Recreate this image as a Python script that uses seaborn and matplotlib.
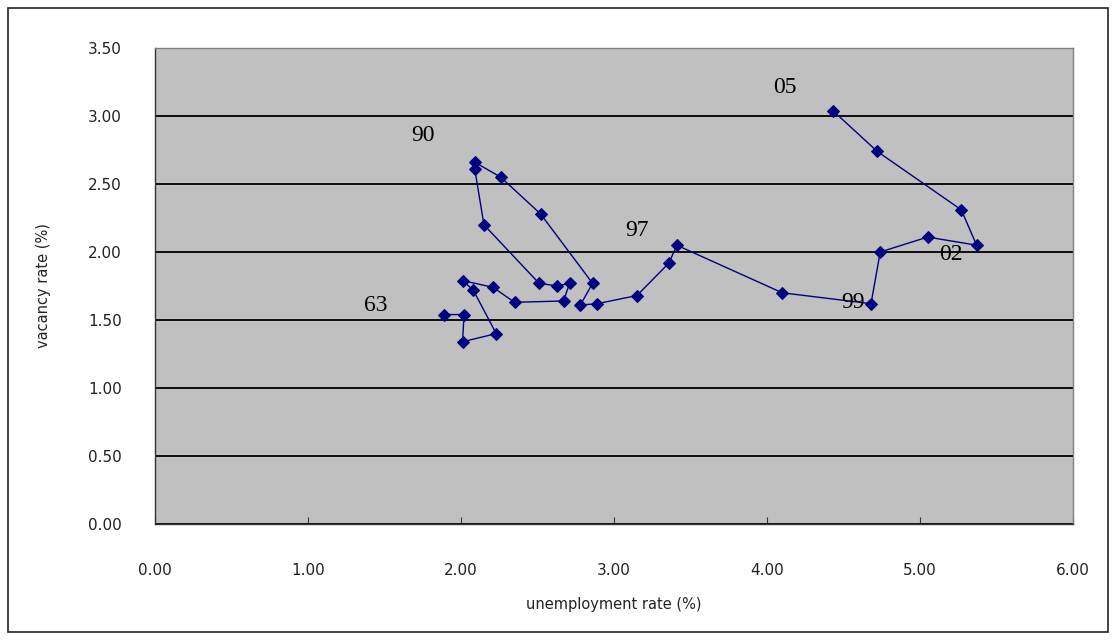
import matplotlib
matplotlib.use("Agg")
import matplotlib.pyplot as plt
from matplotlib.patches import Rectangle
import pandas as pd
import seaborn as sns

# unemployment rate (%) and vacancy rate (%) along the path, 63 -> 05
unemployment = [1.89, 2.02, 2.01, 2.23, 2.08, 2.01, 2.21, 2.35, 2.67, 2.71,
                2.63, 2.51, 2.15, 2.09, 2.09, 2.26, 2.52, 2.86, 2.78, 2.89,
                3.15, 3.36, 3.41, 4.10, 4.68, 4.74, 5.05, 5.37, 5.27, 4.72,
                4.43]
vacancy = [1.54, 1.54, 1.34, 1.40, 1.72, 1.79, 1.74, 1.63, 1.64, 1.77,
           1.75, 1.77, 2.20, 2.61, 2.66, 2.55, 2.28, 1.77, 1.61, 1.62,
           1.68, 1.92, 2.05, 1.70, 1.62, 2.00, 2.11, 2.05, 2.31, 2.74,
           3.04]

year_labels = ["63", "90", "97", "99", "02", "05"]
label_x = [1.44, 1.75, 3.15, 4.56, 5.20, 4.12]
label_y = [1.61, 2.86, 2.16, 1.63, 1.98, 3.21]

x_ticks = [0, 1, 2, 3, 4, 5, 6]
y_ticks = [0, 0.5, 1.0, 1.5, 2.0, 2.5, 3.0, 3.5]

df = pd.DataFrame({"u": unemployment, "v": vacancy})

fig = plt.figure(figsize=(11.17, 6.42), dpi=100)
ax = fig.add_axes([155 / 1117, 1 - 524 / 642, (1073 - 155) / 1117, (524 - 48) / 642])
ax.set_facecolor("#C0C0C0")

sns.lineplot(data=df, x="u", y="v", sort=False, estimator=None, ax=ax,
             color="#000080", linewidth=1, marker="D", markersize=6,
             markeredgecolor="#000080")

for t, x, y in zip(year_labels, label_x, label_y):
    ax.text(x, y, t, ha="center", va="center", fontsize=17,
            family="Liberation Serif", color="black")

ax.set_xlim(0, 6)
ax.set_ylim(0, 3.5)
ax.set_xticks(x_ticks)
ax.set_yticks(y_ticks)
ax.set_xticklabels([f"{v:.2f}" for v in x_ticks])
ax.set_yticklabels([f"{v:.2f}" for v in y_ticks])
ax.grid(axis="y", color="black", linewidth=1.3)
ax.grid(axis="x", visible=False)
ax.set_axisbelow(True)
ax.tick_params(axis="x", direction="in", length=5, color="#333333",
               labelsize=11, pad=28, labelcolor="#222222")
ax.tick_params(axis="y", length=0, labelsize=11, pad=24, labelcolor="#222222")
for s in ax.spines.values():
    s.set_color("#808080")
    s.set_linewidth(1)
ax.spines["left"].set_color("#333333")
ax.spines["bottom"].set_color("#333333")

ax.set_xlabel("unemployment rate (%)", fontsize=10.5, labelpad=14,
              color="#222222")
ax.set_ylabel("vacancy rate (%)", fontsize=10.5, labelpad=4, color="#222222")
ax.yaxis.set_label_coords(-0.113, 0.5)

# outer chart border
fig.patches.append(Rectangle((8 / 1117, 10 / 642), 1100 / 1117, 624 / 642,
                             transform=fig.transFigure, fill=False,
                             edgecolor="#222222", linewidth=1.2))

fig.savefig("out.png", dpi=100)
plt.close(fig)
